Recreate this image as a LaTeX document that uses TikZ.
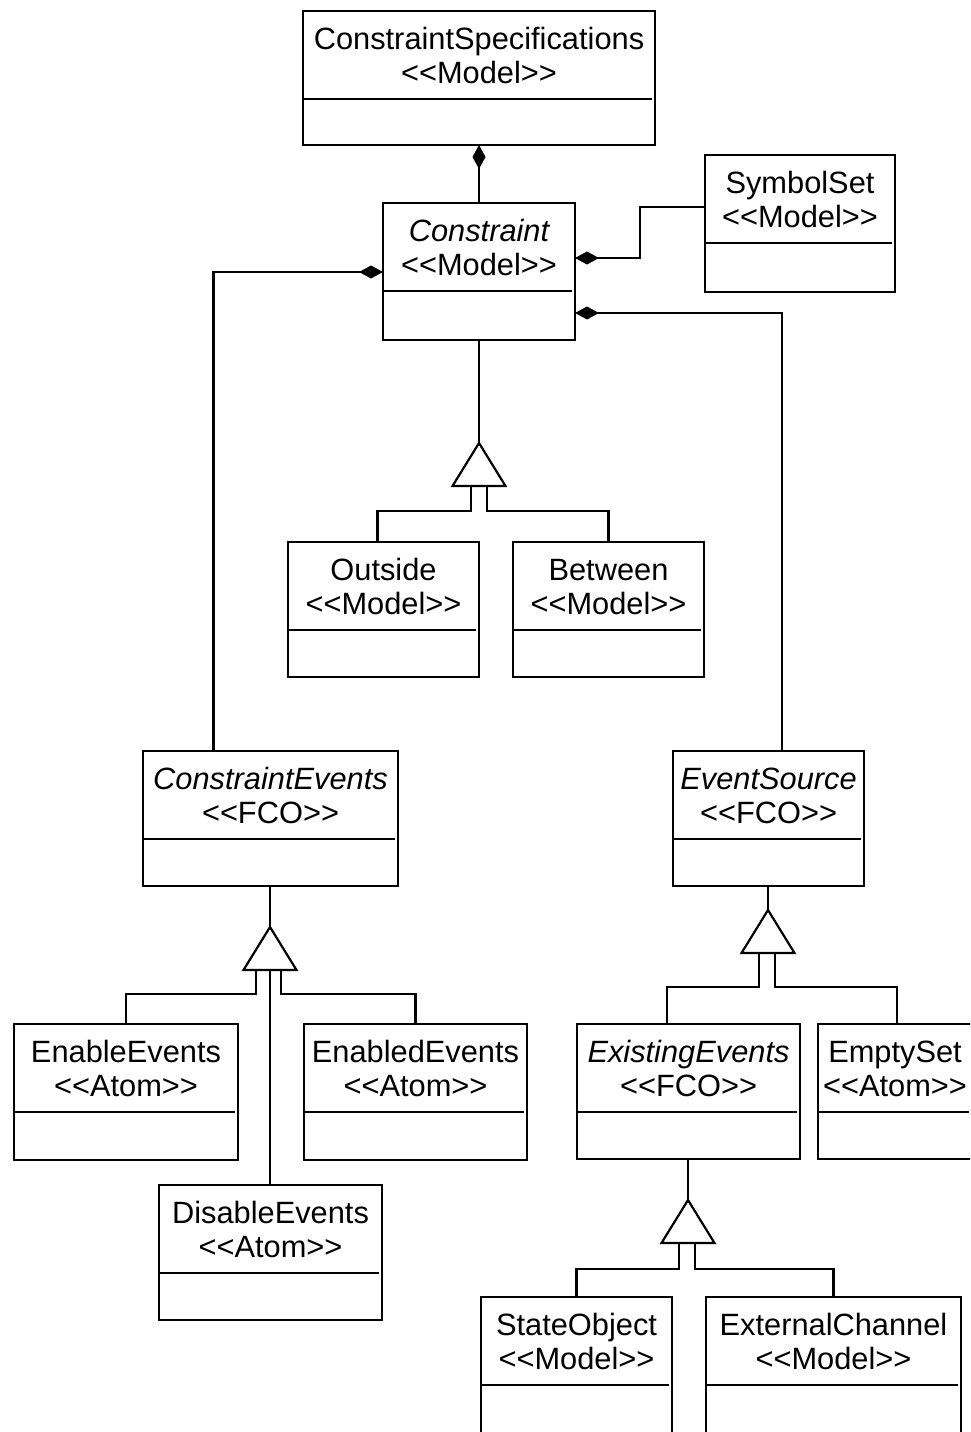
\documentclass[tikz,border=0pt]{standalone}
\usepackage{fontspec}
\setmainfont{Liberation Sans}
\usetikzlibrary{arrows.meta}

\tikzset{
  classbox/.style={draw, line width=2.4pt, rectangle, inner sep=0pt, outer sep=0pt},
  divider/.style={line width=2.2pt},
  cltext/.style={anchor=base, inner sep=0pt, outer sep=0pt,
    font=\fontsize{30.8}{34}\selectfont},
  link/.style={line width=2.2pt},
  comp/.style={link, {Diamond[length=24pt,width=13pt]}-},
  gen/.style={line width=2.2pt, line join=miter, fill=white},
}

% UML class: name, x1, y1, x2, y2, title, stereotype
\newcommand\umlclass[7]{%
  \pgfmathsetmacro\ucw{#4-#2}%
  \pgfmathsetmacro\uch{#5-#3}%
  \pgfmathsetmacro\ucx{(#2+#4)/2}%
  \pgfmathsetmacro\ucy{(#3+#5)/2}%
  \node[classbox, minimum width=\ucw pt, minimum height=\uch pt] (#1) at (\ucx,\ucy) {};
  \draw[divider] ([yshift=-88pt]#1.north west) -- ([xshift=-3pt,yshift=-88pt]#1.north east);
  \node[cltext] (#1-name) at ([yshift=-38.5pt]#1.north) {#6};
  \node[cltext] (#1-kind) at ([yshift=-72.5pt]#1.north) {#7};
}

% generalization triangle: name, apex x, apex y
\newcommand\gentri[3]{%
  \coordinate (#1) at (#2,#3);
  \coordinate (#1b) at ([yshift=-43pt]#1);
  \draw[gen] (#1) -- ([xshift=-26.5pt]#1b) -- ([xshift=26.5pt]#1b) -- cycle;
}

\begin{document}
\begin{tikzpicture}[x=1pt, y=-1pt]
\useasboundingbox (0,0) rectangle (970,1432);
\clip (0,0) rectangle (970,1432);
\fill[white] (0,0) rectangle (970,1432);

% classes
\umlclass{spec}{303}{11}{655}{145}{ConstraintSpecifications}{<{}<Model>{}>}
\umlclass{constraint}{383}{203}{575}{340}{\itshape Constraint}{<{}<Model>{}>}
\umlclass{symbolset}{705}{155}{895}{292}{SymbolSet}{<{}<Model>{}>}
\umlclass{outside}{288}{542}{479}{677}{Outside}{<{}<Model>{}>}
\umlclass{between}{513}{542}{704}{677}{Between}{<{}<Model>{}>}
\umlclass{cevents}{143}{751}{398}{886}{\itshape ConstraintEvents}{<{}<FCO>{}>}
\umlclass{esource}{673}{751}{864}{886}{\itshape EventSource}{<{}<FCO>{}>}
\umlclass{enable}{14}{1024}{238}{1160}{EnableEvents}{<{}<Atom>{}>}
\umlclass{enabled}{304}{1024}{527}{1160}{EnabledEvents}{<{}<Atom>{}>}
\umlclass{disable}{159}{1185}{382}{1320}{DisableEvents}{<{}<Atom>{}>}
\umlclass{existing}{577}{1024}{800}{1159}{\itshape ExistingEvents}{<{}<FCO>{}>}
\umlclass{emptyset}{818}{1024}{972}{1159}{EmptySet}{<{}<Atom>{}>}
\umlclass{stateobj}{481}{1297}{672}{1434}{StateObject}{<{}<Model>{}>}
\umlclass{extchan}{706}{1297}{961}{1434}{ExternalChannel}{<{}<Model>{}>}

% compositions
\draw[comp] (spec.south) -- (constraint.north);
\draw[comp] ([yshift=-69pt]constraint.north west) -| ([xshift=-57pt]cevents.north);
\draw[comp] ([yshift=-55pt]constraint.north east) -- ++(65,0) |- ([yshift=-52pt]symbolset.north west);
\draw[comp] ([yshift=-110pt]constraint.north east) -| ([xshift=13.5pt]esource.north);

% generalizations
\gentri{g1}{479}{443}
\gentri{g2}{270}{927}
\gentri{g3}{768}{910}
\gentri{g4}{688}{1200}

\draw[link] (g1 |- constraint.south) -- (g1);
\draw[link] ([xshift=-8pt]g1b) -- ++(0,25) -| ([xshift=-6pt]outside.north);
\draw[link] ([xshift=8pt]g1b) -- ++(0,25) -| (between.north);

\draw[link] (g2 |- cevents.south) -- (g2);
\draw[link] ([xshift=-14pt]g2b) -- ++(0,24) -| (enable.north);
\draw[link] ([xshift=11pt]g2b) -- ++(0,24) -| (enabled.north);
\draw[link] (g2b) -- (g2b |- disable.north);

\draw[link] (g3 |- esource.south) -- (g3);
\draw[link] ([xshift=-9pt]g3b) -- ++(0,34) -| ([xshift=-21.5pt]existing.north);
\draw[link] ([xshift=7pt]g3b) -- ++(0,34) -| ([xshift=2pt]emptyset.north);

\draw[link] (g4 |- existing.south) -- (g4);
\draw[link] ([xshift=-9pt]g4b) -- ++(0,26) -| (stateobj.north);
\draw[link] ([xshift=7pt]g4b) -- ++(0,26) -| (extchan.north);
\end{tikzpicture}
\end{document}
